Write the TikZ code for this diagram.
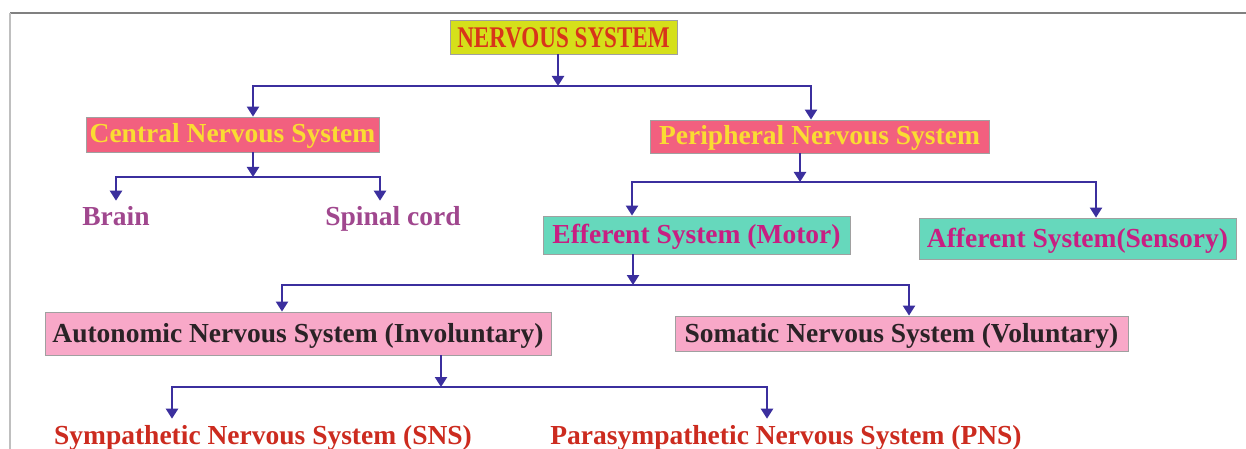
\documentclass[tikz,border=0pt]{standalone}
\usepackage{fontspec}
\usepackage{graphicx}
\setmainfont{Liberation Serif}
\usetikzlibrary{arrows.meta}
\definecolor{arrowc}{HTML}{3B2F9E}
\definecolor{nsfill}{HTML}{D5E01A}
\definecolor{nstext}{HTML}{D8351A}
\definecolor{cfill}{HTML}{F2607F}
\definecolor{ctext}{HTML}{FADC32}
\definecolor{tfill}{HTML}{66D8BC}
\definecolor{ttext}{HTML}{C81E82}
\definecolor{pfill}{HTML}{F8A8C8}
\definecolor{ptext}{HTML}{2A2226}
\definecolor{leaftext}{HTML}{A0478E}
\definecolor{redtext}{HTML}{CC2B1F}
\definecolor{boxedge}{HTML}{A0A0A0}
\tikzset{
  arr/.style={draw=arrowc, line width=2.2pt, -{Triangle[width=12pt,length=10pt]}},
  boxnode/.style={draw=boxedge, line width=0.8pt, inner sep=0pt, text height=20pt, text depth=3pt,
    font=\bfseries\fontsize{27.5}{30}\selectfont},
  leaf/.style={inner sep=2pt, anchor=base, font=\bfseries\fontsize{27.5}{30}\selectfont}
}
\begin{document}
\begin{tikzpicture}[x=1pt,y=-1pt]
\useasboundingbox[fill=white] (0,0) rectangle (1246,449);
% frame
\draw[draw=black!50, line width=1.5pt] (10,13) -- (1246,13);
\draw[draw=black!25, line width=1.2pt] (10,13) -- (10,449);

% boxes
\node[boxnode, fill=nsfill, text=nstext, minimum width=227pt, minimum height=34pt] (ns) at (563.5,37)
  {\raisebox{-2pt}{\scalebox{0.77}[1]{\fontsize{30}{32}\selectfont NERVOUS SYSTEM}}};
\node[boxnode, fill=cfill, text=ctext, minimum width=293pt, minimum height=35pt] (cns) at (232.5,134.5) {Central Nervous System};
\node[boxnode, fill=cfill, text=ctext, minimum width=339pt, minimum height=33pt] (pns) at (819.5,136.5) {Peripheral Nervous System};
\node[boxnode, fill=tfill, text=ttext, minimum width=307pt, minimum height=38pt] (eff) at (696.5,235) {Efferent System (Motor)};
\node[boxnode, fill=tfill, text=ttext, minimum width=317pt, minimum height=41pt] (aff) at (1077.5,238.5) {Afferent System(Sensory)};
\node[boxnode, fill=pfill, text=ptext, minimum width=506pt, minimum height=43pt] (ans) at (298,333.5) {Autonomic Nervous System (Involuntary)};
\node[boxnode, fill=pfill, text=ptext, minimum width=453pt, minimum height=35pt] (sms) at (901.5,333.5) {Somatic Nervous System (Voluntary)};

% leaves
\node[leaf, text=leaftext] (brain) at (116,225) {Brain};
\node[leaf, text=leaftext] (spinal) at (393,225) {Spinal cord};
\node[leaf, text=redtext] (symp) at (263,444) {Sympathetic Nervous System (SNS)};
\node[leaf, text=redtext] (para) at (786,444) {Parasympathetic Nervous System (PNS)};

% junction points
\coordinate (j1) at (558,86);
\coordinate (x1a) at (253,0);
\coordinate (x1b) at (811,0);
\coordinate (j2) at (253,177);
\coordinate (x2a) at (116,0);
\coordinate (x2b) at (380,0);
\coordinate (j3) at (800,182);
\coordinate (x3a) at (632,0);
\coordinate (x3b) at (1096,0);
\coordinate (j4) at (633,285);
\coordinate (x4a) at (282,0);
\coordinate (x4b) at (909,0);
\coordinate (j5) at (441,387);
\coordinate (x5a) at (172,0);
\coordinate (x5b) at (767,0);

% connectors
\draw[arr] (ns.south -| j1) -- (j1);
\draw[arr] (j1) -| (cns.north -| x1a);
\draw[arr] (j1) -| (pns.north -| x1b);

\draw[arr] (cns.south -| j2) -- (j2);
\draw[arr, shorten >=3pt] (j2) -| (brain.north -| x2a);
\draw[arr, shorten >=3pt] (j2) -| (spinal.north -| x2b);

\draw[arr] (pns.south -| j3) -- (j3);
\draw[arr] (j3) -| (eff.north -| x3a);
\draw[arr] (j3) -| (aff.north -| x3b);

\draw[arr] (eff.south -| j4) -- (j4);
\draw[arr] (j4) -| (ans.north -| x4a);
\draw[arr] (j4) -| (sms.north -| x4b);

\draw[arr] (ans.south -| j5) -- (j5);
\draw[arr, shorten >=4pt] (j5) -| (symp.north -| x5a);
\draw[arr, shorten >=4pt] (j5) -| (para.north -| x5b);
\end{tikzpicture}
\end{document}
